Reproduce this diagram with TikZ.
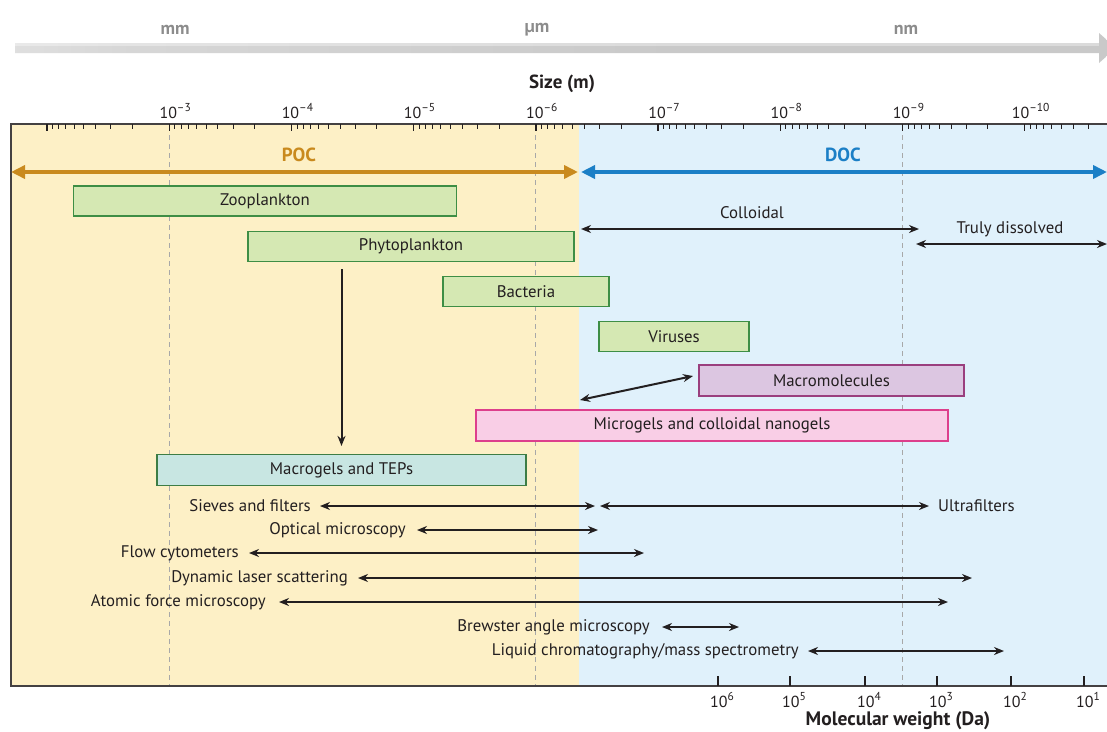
\documentclass[tikz,border=0pt]{standalone}
\usepackage{fontspec}
\setmainfont{PT Sans}
\usetikzlibrary{arrows.meta,calc}
\definecolor{pocbg}{HTML}{FDF0C6}
\definecolor{docbg}{HTML}{E0F1FB}
\definecolor{pocc}{HTML}{C98A1E}
\definecolor{docc}{HTML}{1B7FC6}
\definecolor{greenfill}{HTML}{D5E8B3}
\definecolor{greenline}{HTML}{3E8E45}
\definecolor{purplefill}{HTML}{DCC6E1}
\definecolor{purpleline}{HTML}{9A3F7E}
\definecolor{pinkfill}{HTML}{F9CEE6}
\definecolor{pinkline}{HTML}{DD3F8C}
\definecolor{tealfill}{HTML}{C8E6E2}
\definecolor{tealline}{HTML}{3D7D45}
\definecolor{inkc}{HTML}{231F20}
\definecolor{graytext}{HTML}{8C8C8C}
\definecolor{dashc}{HTML}{A8A8A8}
\definecolor{arrgray}{HTML}{C9C9C9}
\pgfdeclarehorizontalshading{fadegray}{100bp}{color(0bp)=(white); color(5bp)=(white); color(30bp)=(arrgray!75); color(55bp)=(arrgray); color(100bp)=(arrgray)}
\newcommand{\tenpow}[1]{10\raisebox{0.42em}{\fontsize{11.5}{13}\selectfont #1}}
\tikzset{
  txt/.style={font=\fontsize{16.8}{19}\selectfont, text=inkc, inner sep=0pt},
  ticklab/.style={font=\fontsize{16}{18}\selectfont, text=inkc, inner sep=0pt},
  boxg/.style={draw=greenline, fill=greenfill, line width=1.2pt, inner sep=0pt, txt},
  boxp/.style={draw=purpleline, fill=purplefill, line width=1.2pt, inner sep=0pt, txt},
  boxk/.style={draw=pinkline, fill=pinkfill, line width=1.2pt, inner sep=0pt, txt},
  boxt/.style={draw=tealline, fill=tealfill, line width=1.2pt, inner sep=0pt, txt},
  dbl/.style={draw=inkc, line width=2pt, {Stealth[length=10pt,width=8pt]}-{Stealth[length=10pt,width=8pt]}},
  sgl/.style={draw=inkc, line width=2pt, -{Stealth[length=10pt,width=8pt]}},
  vdash/.style={draw=dashc, line width=0.9pt, dash pattern=on 5pt off 4pt},
  unitlab/.style={font=\fontsize{18}{20}\selectfont\bfseries, text=graytext, inner sep=0pt},
}
\begin{document}
\begin{tikzpicture}[x=1pt,y=-1pt]
\useasboundingbox (0,0) rectangle (1107,731);
\fill[white] (0,0) rectangle (1107,731);

% top grey scale arrow
\shade[shading=fadegray]
  (15,43) -- (1099,43) -- (1099,33) -- (1116,48) -- (1099,63) -- (1099,53) -- (15,53) -- cycle;
\fill[white, opacity=0.35] (15,43) rectangle (1099,46);
\node[unitlab] (mm) at (175,30) {mm};
\node[unitlab] (um) at (537,30) {µm};
\node[unitlab] (nm) at (906,30) {nm};
\node[font=\fontsize{19}{21}\selectfont\bfseries, text=inkc, inner sep=0pt] (size) at (562,84) {Size (m)};

% backgrounds
\fill[pocbg] (11,124) rectangle (579,686);
\fill[docbg] (579,124) rectangle (1112,686);
\draw[vdash] (169.2,126) -- (169.2,686);
\draw[vdash] (535.8,126) -- (535.8,686);
\draw[vdash] (902.4,126) -- (902.4,686);
\draw[inkc!85, line width=1.3pt] (1112,124) -- (11,124) -- (11,686) -- (1112,686);

% size ticks
\foreach \d in {0,...,8} {
  \pgfmathsetmacro{\xd}{47+122.2*\d}
  \draw[inkc, line width=1.4pt] (\xd,124) -- (\xd,131);
  \foreach \k in {2,...,9} {
    \pgfmathsetmacro{\xk}{\xd+122.2*(1-log10(\k))}
    \draw[inkc, line width=0.9pt] (\xk,124) -- (\xk,129);
  }
}
\foreach \d/\e in {1/3,2/4,3/5,4/6,5/7,6/8,7/9,8/10} {
  \pgfmathsetmacro{\xd}{47+122.2*\d}
  \node[ticklab, anchor=base] (t\e) at (\xd+6,118) {\tenpow{–\e}};
}

% POC / DOC
\coordinate (pocL) at (11,172);
\coordinate (mid) at (579,172);
\coordinate (docR) at (1107,172);
\draw[pocc, line width=4.5pt, {Triangle[length=14pt,width=13pt]}-{Triangle[length=14pt,width=13pt]}] (pocL) -- ([xshift=-1pt]mid);
\draw[docc, line width=4.5pt, {Triangle[length=14pt,width=13pt]}-{Triangle[length=14pt,width=13pt]}] ([xshift=2pt]mid) -- (docR);
\node[font=\fontsize{19}{21}\selectfont\bfseries, text=pocc, inner sep=0pt] (poc) at (299,155) {POC};
\node[font=\fontsize{19}{21}\selectfont\bfseries, text=docc, inner sep=0pt] (doc) at (843,155) {DOC};

% boxes
\node[boxg, minimum width=383pt, minimum height=30pt] (zoo) at (265,201) {Zooplankton};
\node[boxg, minimum width=326pt, minimum height=30pt] (phyto) at (411,246.5) {Phytoplankton};
\node[boxg, minimum width=166pt, minimum height=30pt] (bact) at (526,291.5) {Bacteria};
\node[boxg, minimum width=150pt, minimum height=30pt] (vir) at (674,336.5) {Viruses};
\node[boxp, minimum width=265pt, minimum height=31pt] (macmol) at (831.5,380.5) {Macromolecules};
\node[boxk, minimum width=472pt, minimum height=31pt] (micro) at (712,425.5) {Microgels and colloidal nanogels};
\node[boxt, minimum width=369pt, minimum height=31pt] (macro) at (341.5,470) {Macrogels and TEPs};

\draw[sgl] ([yshift=-7pt]phyto.south -| macro.north) -- ([yshift=8pt]macro.north);

% colloidal / truly dissolved
\node[txt] (coll) at (752,213) {Colloidal};
\node[txt] (truly) at (1010,229) {Truly dissolved};
\coordinate (collL) at (581,229);
\coordinate (collR) at (919,229);
\coordinate (trulyL) at (916,244);
\coordinate (trulyR) at (1107,244);
\draw[dbl] (collL) -- (collR);
\draw[dbl] (trulyL) -- (trulyR);

\coordinate (mmA) at (580,400);
\coordinate (mmB) at (693,376);
\draw[dbl] (mmA) -- (mmB);

% methods
\node[txt, anchor=east] (sieve) at (311,506) {Sieves and filters};
\coordinate (sieveR) at (595,506);
\draw[dbl] ([xshift=9pt]sieve.east) -- (sieveR);
\node[txt, anchor=west] (ultra) at (938,506) {Ultrafilters};
\coordinate (ultraL) at (600,506);
\draw[dbl] (ultraL) -- ([xshift=-9pt]ultra.west);

\node[txt, anchor=east] (optic) at (406,530) {Optical microscopy};
\coordinate (opticR) at (598,530);
\draw[dbl] ([xshift=11pt]optic.east) -- (opticR);

\node[txt, anchor=east] (flow) at (239,553) {Flow cytometers};
\coordinate (flowR) at (644,553);
\draw[dbl] ([xshift=10pt]flow.east) -- (flowR);

\node[txt, anchor=east] (dls) at (348,578) {Dynamic laser scattering};
\coordinate (dlsR) at (972,578);
\draw[dbl] ([xshift=10pt]dls.east) -- (dlsR);

\node[txt, anchor=east] (afm) at (266,602) {Atomic force microscopy};
\coordinate (afmR) at (948,602);
\draw[dbl] ([xshift=13pt]afm.east) -- (afmR);

\node[txt, anchor=east] (bam) at (650,627) {Brewster angle microscopy};
\coordinate (bamR) at (739,627);
\draw[dbl] ([xshift=12pt]bam.east) -- (bamR);

\node[txt, anchor=east] (lcms) at (799,651) {Liquid chromatography/mass spectrometry};
\coordinate (lcmsR) at (1004,651);
\draw[dbl] ([xshift=9pt]lcms.east) -- (lcmsR);

% molecular weight axis
\foreach \x/\e in {718/6,790/5,865/4,937/3,1011/2,1084/1} {
  \draw[inkc, line width=1.3pt] (\x,676) -- (\x,686);
  \node[ticklab, anchor=base] (mw\e) at (\x+4,707) {\tenpow{\e}};
}
\node[font=\fontsize{19.5}{21}\selectfont\bfseries, text=inkc, inner sep=0pt] (mwlab) at (898,721) {Molecular weight (Da)};
\end{tikzpicture}
\end{document}
